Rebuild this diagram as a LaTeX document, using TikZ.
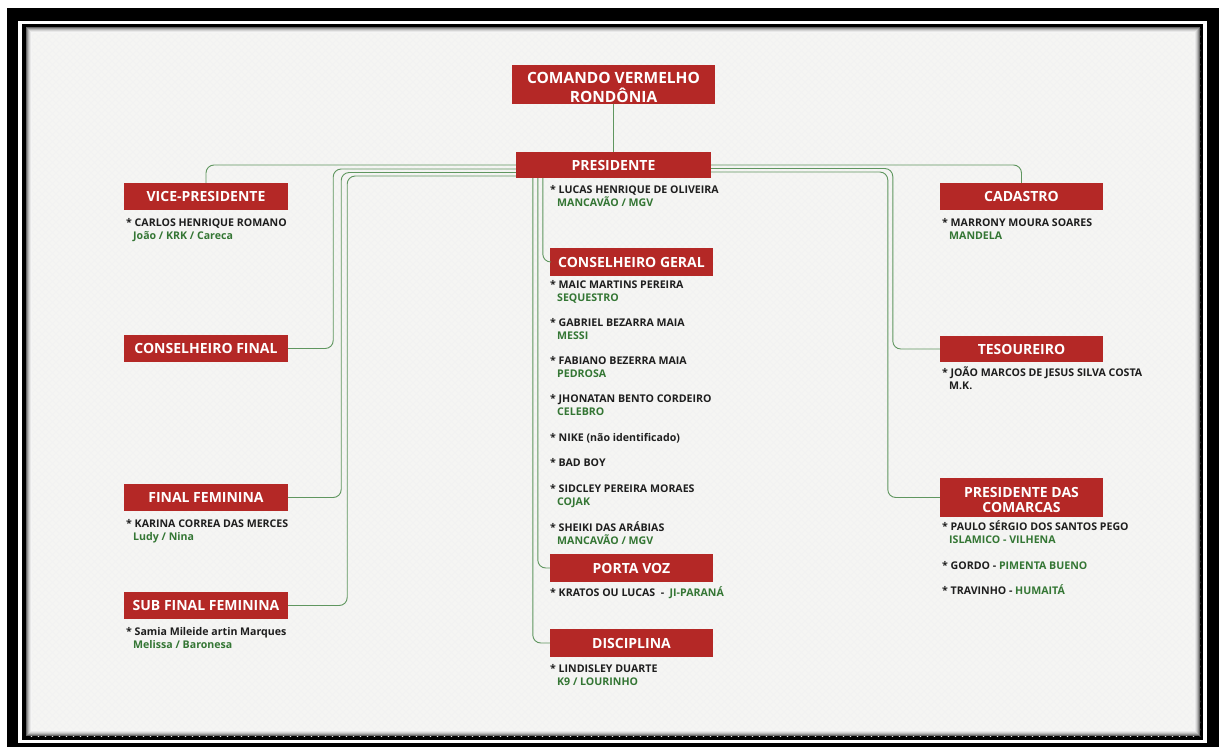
\documentclass[tikz,border=0pt]{standalone}
\usepackage{fontspec}
\setmainfont{Open Sans}
\definecolor{cvred}{RGB}{180,40,38}
\definecolor{cvgreen}{RGB}{52,118,52}
\definecolor{lngreen}{RGB}{95,150,95}
\definecolor{txt}{RGB}{30,30,30}
\definecolor{bgc}{RGB}{245,245,243}
\tikzset{
  title/.style={fill=cvred, text=white, inner sep=0pt, align=center,
    font=\bfseries\fontsize{14}{16}\selectfont, minimum width=164pt, minimum height=27pt},
  body/.style={anchor=base west, inner sep=0pt, text=txt, font=\bfseries\fontsize{10.6}{12}\selectfont},
  gbody/.style={body, text=cvgreen},
  conn/.style={draw=lngreen, line width=0.9pt, rounded corners=8pt},
  hatch/.style={draw=black!5, line width=0.5pt}
}
\begin{document}
\begin{tikzpicture}[x=1pt,y=-1pt]
\useasboundingbox (0,0) rectangle (1219,747);
% frame
\fill[black] (7,8) rectangle (1219,747);
\fill[white] (18,21) rectangle (1207,743);
\fill[black] (22,24) rectangle (1203,740);
\fill[bgc] (26,27) rectangle (1200,736);
\begin{scope}
\clip (26,27) rectangle (1200,736);
\foreach \k in {-720,-713,...,1200} {
  \draw[hatch] (\k,27) -- ++(712,712);
  \draw[hatch] (\k+712,27) -- ++(-712,712);
}
\end{scope}
\foreach \i/\c in {0/60,1/42,2/28,3/17,4/9,5/4}
  \draw[black!\c, line width=1pt] (26.5+\i,27.5+\i) rectangle (1199.5-\i,735.5-\i);

% title boxes
\node[title, minimum width=203pt, minimum height=39pt, font=\bfseries\fontsize{15.5}{16}\selectfont] (cv) at (613.5,84.5) {\rule{0pt}{18pt}COMANDO VERMELHO\\[3pt]RONDÔNIA};
\node[title, minimum width=195pt, minimum height=26pt] (pres) at (613.5,165) {PRESIDENTE};
\node[title] (vp) at (206,196.5) {VICE-PRESIDENTE};
\node[title] (cf) at (206,348.5) {CONSELHEIRO FINAL};
\node[title] (ff) at (206,497.5) {FINAL FEMININA};
\node[title] (sff) at (206,605.5) {SUB FINAL FEMININA};
\node[title, minimum width=163pt, minimum height=28pt] (cg) at (631.5,262) {CONSELHEIRO GERAL};
\node[title, minimum width=163pt, minimum height=28pt] (pv) at (631.5,568) {PORTA VOZ};
\node[title, minimum width=163pt, minimum height=28pt] (disc) at (631.5,643) {DISCIPLINA};
\node[title, minimum width=163pt] (cad) at (1021.5,196.5) {CADASTRO};
\node[title, minimum width=163pt, minimum height=26pt] (tes) at (1021.5,349) {TESOUREIRO};
\node[title, minimum width=163pt, minimum height=39pt] (pdc) at (1021.5,497.5) {\rule{0pt}{15pt}PRESIDENTE DAS\\[-1pt]COMARCAS};

% connectors
\draw[conn] (cv.south) -- (pres.north);
\draw[conn] (pres.west) -| (vp.north);
\draw[conn] ([yshift=-4pt]pres.west) -| ([xshift=45pt]cf.east) -- (cf.east);
\draw[conn] ([yshift=-7.5pt]pres.west) -| ([xshift=53pt]ff.east) -- (ff.east);
\draw[conn] ([yshift=-11pt]pres.west) -| ([xshift=59pt]sff.east) -- (sff.east);
\draw[conn] ([xshift=27pt]pres.south west) |- (cg.west);
\draw[conn] ([xshift=22pt]pres.south west) |- (pv.west);
\draw[conn] ([xshift=17pt]pres.south west) |- (disc.west);
\draw[conn] (pres.east) -| (cad.north);
\draw[conn] ([yshift=-3.5pt]pres.east) -| ([xshift=-47pt]tes.west) -- (tes.west);
\draw[conn] ([yshift=-7pt]pres.east) -| ([xshift=-52pt]pdc.west) -- (pdc.west);

% left texts
\node[body] (t1) at (126,226.5) {* CARLOS HENRIQUE ROMANO};
\node[gbody] (t1b) at (133,239.5) {João / KRK / Careca};
\node[body] (t2) at (126,527) {* KARINA CORREA DAS MERCES};
\node[gbody] (t2b) at (133,540) {Ludy / Nina};
\node[body] (t3) at (126,635.5) {* Samia Mileide artin Marques};
\node[gbody] (t3b) at (133,648.5) {Melissa / Baronesa};

% center texts
\node[body] (c0) at (550,193.5) {* LUCAS HENRIQUE DE OLIVEIRA};
\node[gbody] (c0b) at (557,206.5) {MANCAVÃO / MGV};
\node[body] (c1) at (550,288.5) {* MAIC MARTINS PEREIRA};
\node[gbody] (c1b) at (557,301.5) {SEQUESTRO};
\node[body] (c2) at (550,326.5) {* GABRIEL BEZARRA MAIA};
\node[gbody] (c2b) at (557,339.5) {MESSI};
\node[body] (c3) at (550,364.5) {* FABIANO BEZERRA MAIA};
\node[gbody] (c3b) at (557,377.5) {PEDROSA};
\node[body] (c4) at (550,402.5) {* JHONATAN BENTO CORDEIRO};
\node[gbody] (c4b) at (557,415.5) {CELEBRO};
\node[body] (c5) at (550,441.5) {* NIKE (não identificado)};
\node[body] (c6) at (550,466.5) {* BAD BOY};
\node[body] (c7) at (550,492.5) {* SIDCLEY PEREIRA MORAES};
\node[gbody] (c7b) at (557,505.5) {COJAK};
\node[body] (c8) at (550,531.5) {* SHEIKI DAS ARÁBIAS};
\node[gbody] (c8b) at (557,544) {MANCAVÃO / MGV};
\node[body] (c9) at (550,596.5) {* KRATOS OU LUCAS\ \ -\ \ \textcolor{cvgreen}{JI-PARANÁ}};
\node[body] (c10) at (550,672.5) {* LINDISLEY DUARTE};
\node[gbody] (c10b) at (557,685.5) {K9 / LOURINHO};

% right texts
\node[body] (r1) at (942,226.5) {* MARRONY MOURA SOARES};
\node[gbody] (r1b) at (949,239.5) {MANDELA};
\node[body] (r2) at (942,376.5) {* JOÃO MARCOS DE JESUS SILVA COSTA};
\node[body] (r2b) at (949,389.5) {M.K.};
\node[body] (r3) at (942,530.5) {* PAULO SÉRGIO DOS SANTOS PEGO};
\node[gbody] (r3b) at (949,543.5) {ISLAMICO - VILHENA};
\node[body] (r4) at (942,569.5) {* GORDO - \textcolor{cvgreen}{PIMENTA BUENO}};
\node[body] (r5) at (942,594.5) {* TRAVINHO - \textcolor{cvgreen}{HUMAITÁ}};
\end{tikzpicture}
\end{document}
